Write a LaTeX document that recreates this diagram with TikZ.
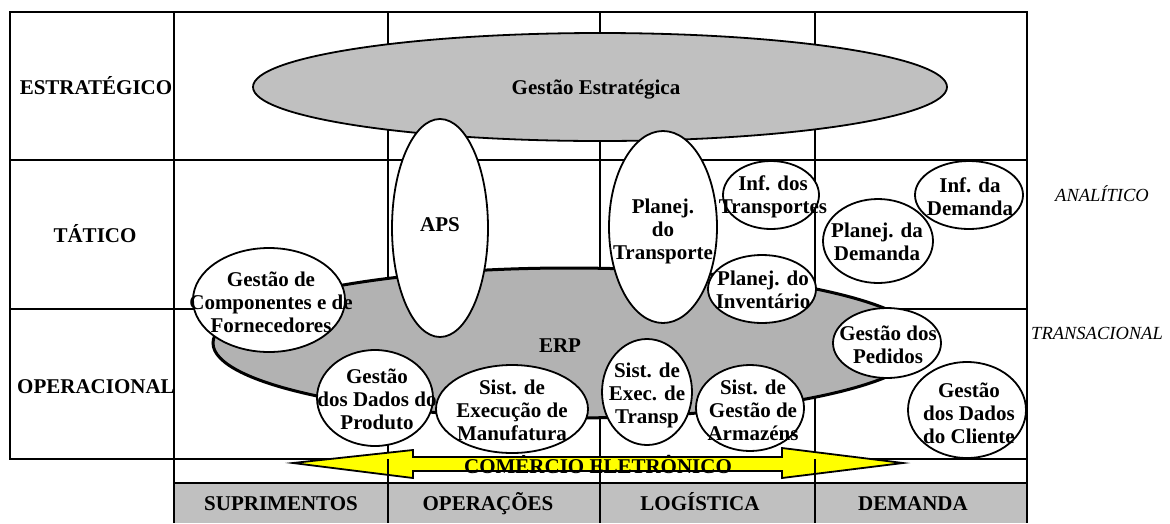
\documentclass[tikz,border=0pt]{standalone}
\usepackage{fontspec}
\setmainfont{Liberation Serif}
\usetikzlibrary{shapes.geometric}
\definecolor{lightgray}{HTML}{C0C0C0}
\definecolor{erpgray}{HTML}{B2B2B2}
\definecolor{arrowyellow}{HTML}{FFFF00}
\tikzset{
  thinline/.style={line width=1.5pt},
  thickline/.style={line width=2.6pt},
  ell/.style={ellipse, draw, fill=white, line width=1.8pt, inner sep=0pt},
  lbl/.style={font=\fontsize{21}{23}\selectfont\bfseries, align=center, inner sep=0pt},
  ital/.style={font=\fontsize{18.5}{21}\selectfont\itshape, inner sep=0pt},
}
\begin{document}
\begin{tikzpicture}[x=1pt,y=-1pt]
\useasboundingbox (0,0) rectangle (1170,523);
% header fill
\fill[lightgray] (174,483) rectangle (1027,523);
% grid
\draw[thinline] (10,12) rectangle (1027,459);
\draw[thinline] (174,12) -- (174,523);
\draw[thinline] (1027,459) -- (1027,523);
\draw[thinline] (174,483) -- (1027,483);
\draw[thickline] (388,12) -- (388,459);
\draw[thickline] (600,12) -- (600,459);
\draw[thickline] (815,12) -- (815,459);
\draw[thickline] (10,160) -- (1027,160);
\draw[thickline] (10,309) -- (1027,309);
% big ellipses
\node[ellipse, draw, fill=lightgray, line width=1.8pt, minimum width=694pt, minimum height=108pt] (ge) at (600,87) {};
\node[ellipse, draw, fill=erpgray, line width=3pt, minimum width=712pt, minimum height=150pt] (erp) at (569,343) {};
% white ellipses
\node[ell, minimum width=96pt, minimum height=218pt] (aps) at (440,228) {};
\node[ell, minimum width=108pt, minimum height=192pt] (pt) at (663,227) {};
\node[ell, minimum width=96pt, minimum height=68pt] (it) at (771,195) {};
\node[ell, minimum width=108pt, minimum height=68pt] (pi) at (762,289) {};
\node[ell, minimum width=108pt, minimum height=68pt] (id) at (969,195) {};
\node[ell, minimum width=110pt, minimum height=84pt] (pd) at (878,241) {};
\node[ell, minimum width=152pt, minimum height=104pt] (gc) at (269,300) {};
\node[ell, minimum width=116pt, minimum height=96pt] (gp) at (375,398) {};
\node[ell, minimum width=152pt, minimum height=88pt] (sm) at (512,409) {};
\node[ell, minimum width=90pt, minimum height=106pt] (st) at (647,392) {};
\node[ell, minimum width=108pt, minimum height=86pt] (sa) at (750,408) {};
\node[ell, minimum width=108pt, minimum height=70pt] (gpe) at (887,343) {};
\node[ell, minimum width=118pt, minimum height=96pt] (gcl) at (967,410) {};
% arrow
\coordinate (al) at (293,463);
\coordinate (ar) at (903,463);
\draw[fill=arrowyellow, line width=1.8pt, line join=miter]
  (al) -- (413,450) -- (413,457) -- (782,457) -- (782,448) -- (ar)
  -- (782,478) -- (782,471) -- (413,471) -- (413,478) -- cycle;
% lower vertical lines on top
\draw[thickline] (388,459) -- (388,523);
\draw[thickline] (600,459) -- (600,523);
\draw[thickline] (815,459) -- (815,523);
% texts
\node[lbl, anchor=base] (t1) at (96,94) {ESTRATÉGICO};
\node[lbl, anchor=base] (t2) at (95,242) {TÁTICO};
\node[lbl, anchor=base] (t3) at (96,393) {OPERACIONAL};
\node[lbl, anchor=base] at (596,94) {Gestão Estratégica};
\node[lbl, anchor=base] at (560,352) {ERP};
\node[lbl, anchor=base] at (440,231) {APS};
\node[lbl] at (663,231) {Planej.\\do\\Transporte};
\node[lbl] at (773,197) {Inf. dos\\Transportes};
\node[lbl] at (763,290) {Planej. do\\Inventário};
\node[lbl] at (970,197) {Inf. da\\Demanda};
\node[lbl] at (877,242) {Planej. da\\Demanda};
\node[lbl] at (271,302) {Gestão de\\Componentes e de\\Fornecedores};
\node[lbl] at (377,399) {Gestão\\dos Dados do\\Produto};
\node[lbl] at (512,410) {Sist. de\\Execução de\\Manufatura};
\node[lbl] at (647,395) {Sist. de\\Exec. de\\Transp};
\node[lbl] at (753,410) {Sist. de\\Gestão de\\Armazéns};
\node[lbl] at (888,345) {Gestão dos\\Pedidos};
\node[lbl] at (969,413) {Gestão\\dos Dados\\do Cliente};
\node[lbl, anchor=base] at (598,473) {COMÉRCIO ELETRÔNICO};
\node[lbl, anchor=base] at (281,510) {SUPRIMENTOS};
\node[lbl, anchor=base] at (488,510) {OPERAÇÕES};
\node[lbl, anchor=base] at (700,510) {LOGÍSTICA};
\node[lbl, anchor=base] at (913,510) {DEMANDA};
\node[ital, anchor=base] at (1102,201) {ANALÍTICO};
\node[ital, anchor=base] at (1097,339) {TRANSACIONAL};
\end{tikzpicture}
\end{document}
